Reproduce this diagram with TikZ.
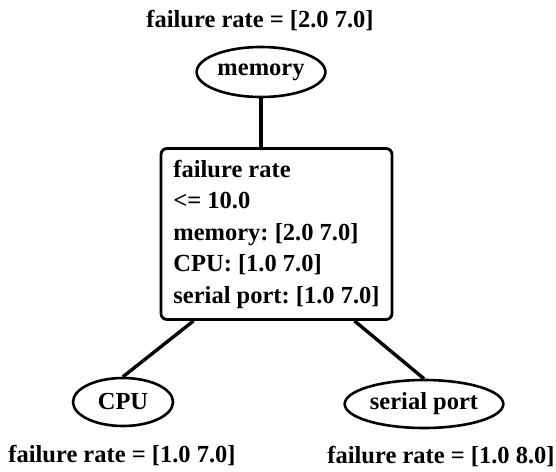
\documentclass[tikz,border=0pt]{standalone}
\usepackage{fontspec}
\setmainfont{Liberation Serif}
\usetikzlibrary{shapes.geometric}

\begin{document}
\frenchspacing
\begin{tikzpicture}[
    x=1pt, y=-1pt,
    attr/.style={
      ellipse, draw=black, line width=2.6pt,
      minimum height=48pt, inner sep=2pt,
      font=\fontsize{24.5}{31.5}\selectfont\bfseries,
    },
    rulebox/.style={
      rectangle, rounded corners=6pt,
      draw=black, line width=2.8pt,
      minimum width=231pt, minimum height=171pt,
      font=\fontsize{24.5}{31.5}\selectfont\bfseries,
      align=left, inner xsep=8pt,
    },
    link/.style={draw=black, line width=3.4pt},
    rate/.style={font=\fontsize{24.5}{31.5}\selectfont\bfseries},
  ]
  \useasboundingbox (0,0) rectangle (556,471);

  % ---- Root attribute ----
  \node[rate] (toprate) at (260, 21) {failure rate = [2.0 7.0]};
  \node[attr, minimum width=123pt, minimum height=50pt] (memory) at (261, 72) {memory};

  % ---- Constraint box ----
  \node[rulebox] (rule) at (276.5, 234) {failure rate\\<= 10.0\\memory: [2.0 7.0]\\CPU: [1.0 7.0]\\serial port: [1.0 7.0]};
  \draw[link] (memory.south) -- (memory.south |- rule.north);

  % ---- Children ----
  \node[attr, minimum width=100pt] (cpu)    at (123, 402) {CPU};
  \node[attr, minimum width=145pt] (serial) at (424, 404) {serial port};
  \draw[link] ([xshift=-83pt]rule.south) -- (cpu.north);
  \draw[link] ([xshift=78pt]rule.south) -- (serial.north);

  \node[rate] (cpurate)    at (122, 456) {failure rate = [1.0 7.0]};
  \node[rate] (serialrate) at (441, 457) {failure rate = [1.0 8.0]};

\end{tikzpicture}
\end{document}
